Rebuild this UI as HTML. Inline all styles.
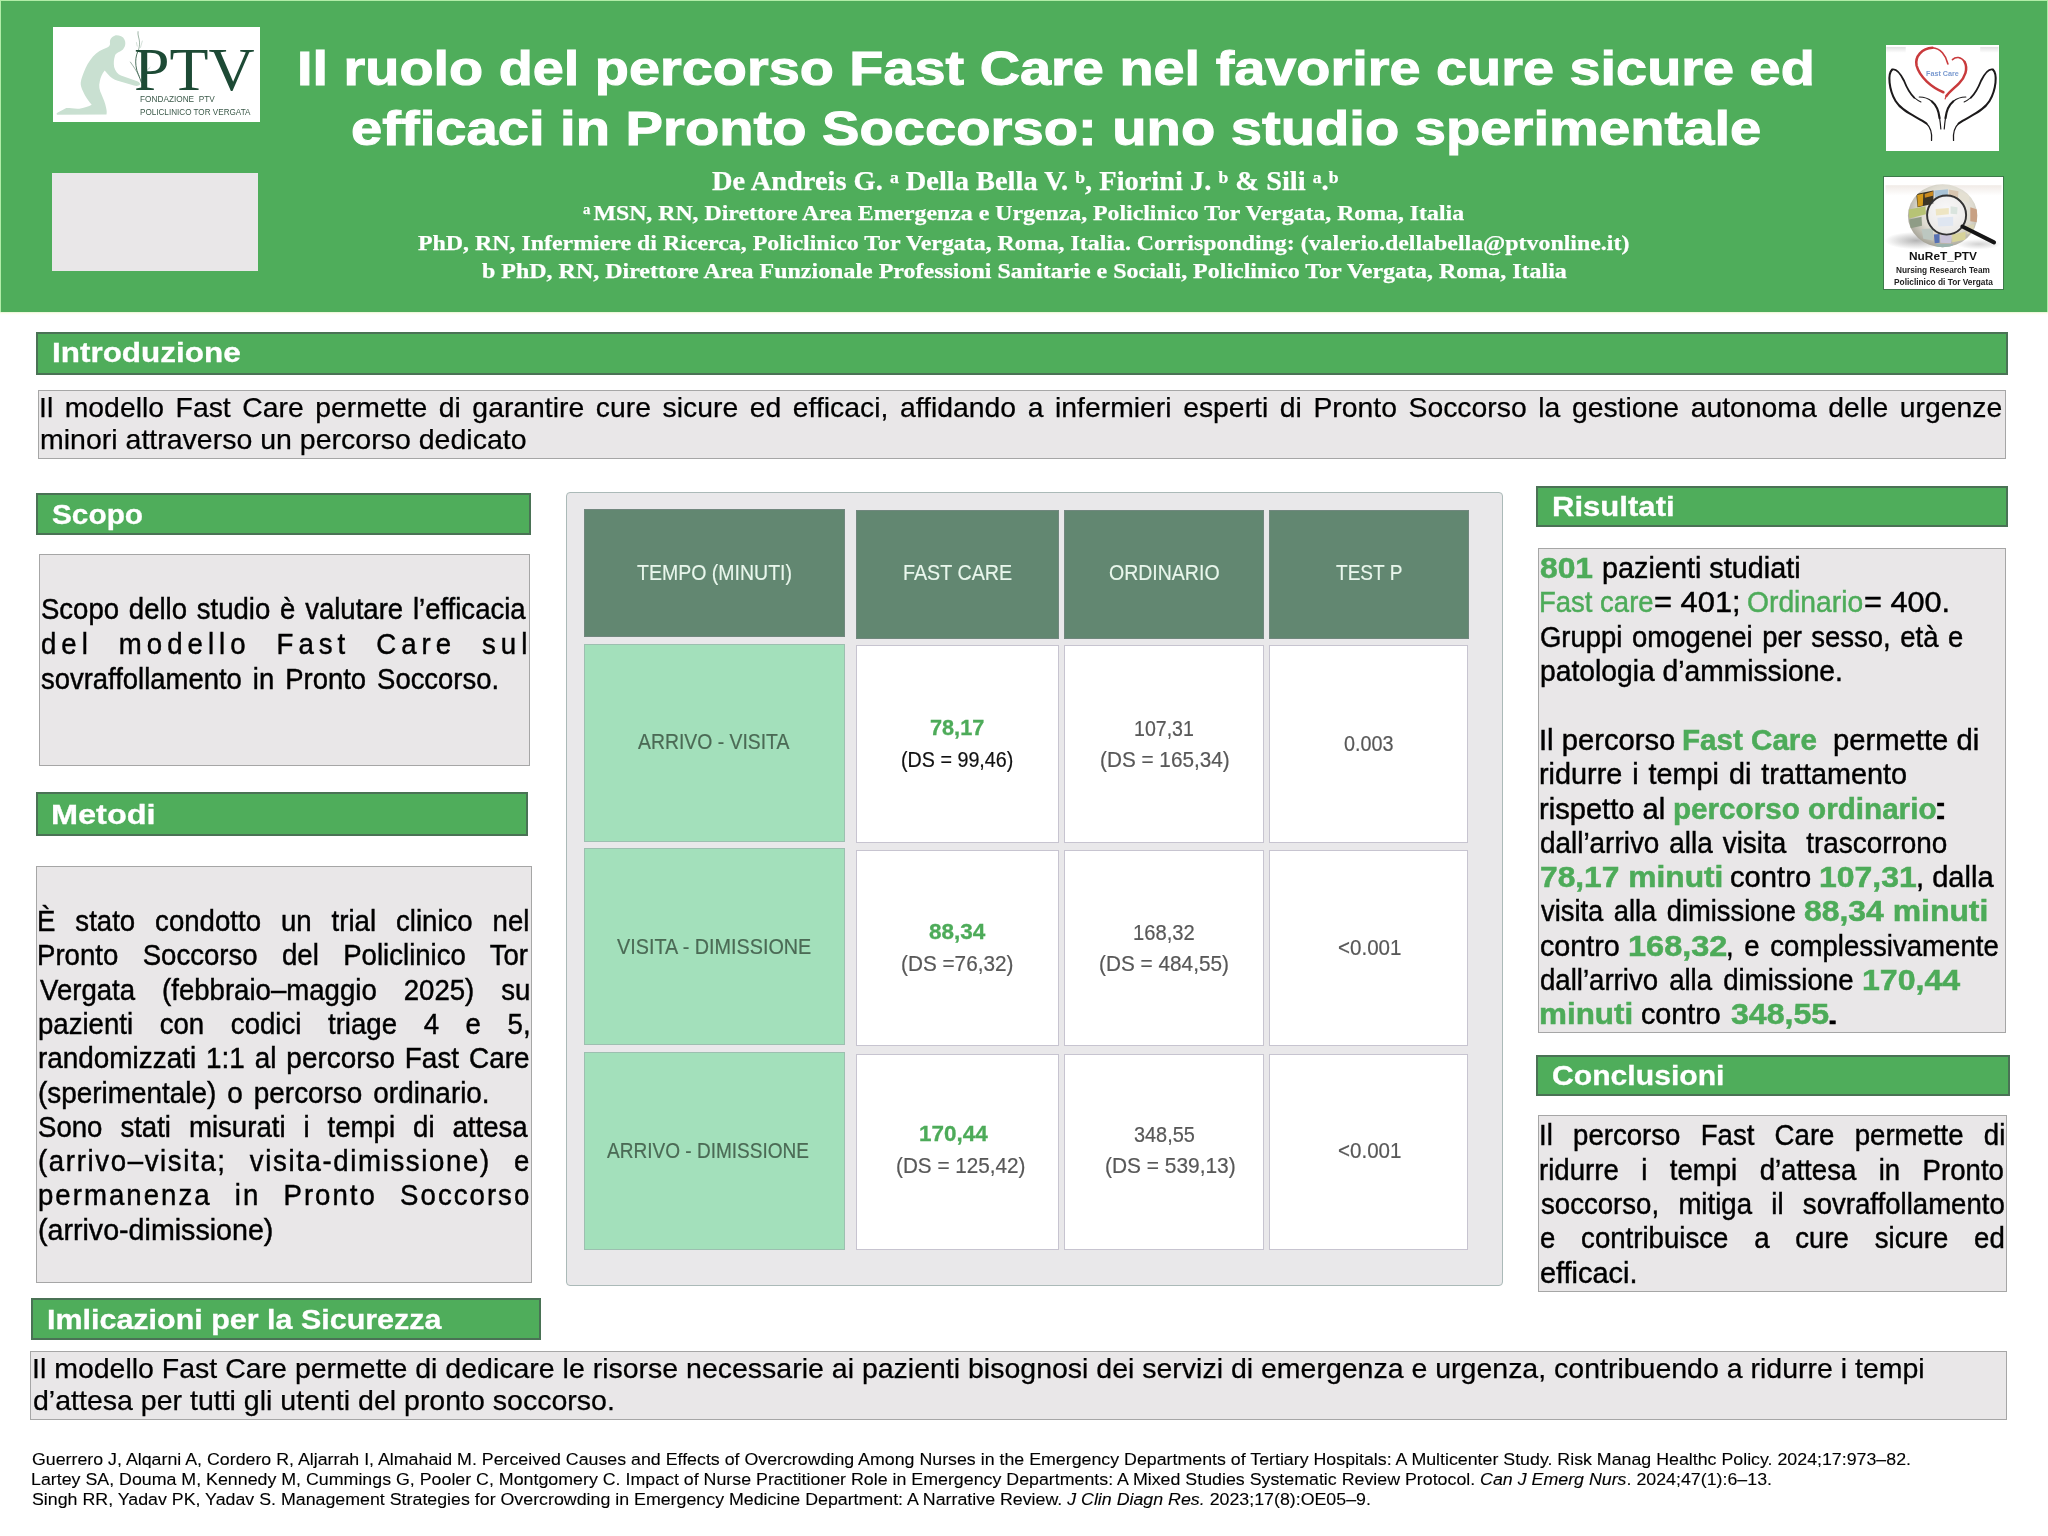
<!DOCTYPE html>
<html><head><meta charset="utf-8"><title>Fast Care poster</title>
<style>
html,body{margin:0;padding:0;background:#fff;}
body{width:2048px;height:1536px;position:relative;overflow:hidden;font-family:'Liberation Sans',sans-serif;}
.b{position:absolute;box-sizing:border-box;}
.t{position:absolute;white-space:pre;transform-origin:0 50%;margin:0;padding:0;}
svg{position:absolute;overflow:visible;}
</style></head><body>
<div class="b" style="left:0.00px;top:0.00px;width:2048.00px;height:311.70px;background:#4fad5b;"></div>
<div class="b" style="left:0;top:311.7px;width:2048px;height:3px;background:linear-gradient(#e4f5d2,#fdfdf0 45%,#ffffff);"></div>
<div class="b" style="left:0.00px;top:0.00px;width:2048.00px;height:1.00px;background:#b2eda8;"></div>
<div class="b" style="left:0.00px;top:0.00px;width:1.00px;height:311.70px;background:#b2eda8;"></div>
<div class="b" style="left:2047.00px;top:0.00px;width:1.00px;height:311.70px;background:#aaeea6;"></div>
<div class="b" style="left:53.00px;top:27.10px;width:207.00px;height:94.80px;background:#fff;"></div>
<div class="b" style="left:51.50px;top:172.50px;width:206.00px;height:98.00px;background:#e9e7e8;"></div>
<div class="b" style="left:1886.00px;top:45.00px;width:113.00px;height:106.00px;background:#fff;"></div>
<div class="b" style="left:1883.30px;top:176.40px;width:120.40px;height:113.90px;background:#fff;border:1.5px solid #3d7a4a;"></div>
<div class="b" style="left:36.00px;top:331.50px;width:1972.00px;height:43.40px;background:#4fad5b;border:2.6px solid #4a7255;"></div>
<div class="b" style="left:36.00px;top:493.00px;width:495.00px;height:42.40px;background:#4fad5b;border:2.6px solid #4a7255;"></div>
<div class="b" style="left:36.00px;top:792.00px;width:492.00px;height:43.90px;background:#4fad5b;border:2.6px solid #4a7255;"></div>
<div class="b" style="left:1536.25px;top:486.00px;width:471.75px;height:40.90px;background:#4fad5b;border:2.6px solid #4a7255;"></div>
<div class="b" style="left:1536.25px;top:1054.50px;width:473.75px;height:41.40px;background:#4fad5b;border:2.6px solid #4a7255;"></div>
<div class="b" style="left:31.25px;top:1298.25px;width:509.75px;height:41.40px;background:#4fad5b;border:2.6px solid #4a7255;"></div>
<div class="b" style="left:37.50px;top:390.00px;width:1968.00px;height:69.30px;background:#e9e7e8;border:1px solid #a6a6a6;"></div>
<div class="b" style="left:39.25px;top:554.25px;width:490.45px;height:211.35px;background:#e9e7e8;border:1px solid #a6a6a6;"></div>
<div class="b" style="left:35.50px;top:866.00px;width:496.50px;height:417.00px;background:#e9e7e8;border:1px solid #a6a6a6;"></div>
<div class="b" style="left:1538.00px;top:547.50px;width:467.75px;height:485.80px;background:#e9e7e8;border:1px solid #a6a6a6;"></div>
<div class="b" style="left:1538.00px;top:1115.00px;width:468.75px;height:176.60px;background:#e9e7e8;border:1px solid #a6a6a6;"></div>
<div class="b" style="left:30.25px;top:1350.50px;width:1976.25px;height:69.00px;background:#e9e7e8;border:1px solid #a6a6a6;"></div>
<div class="b" style="left:565.80px;top:491.60px;width:936.80px;height:794.70px;background:#e9e8ea;border:1.2px solid #abbab8;border-radius:4px;"></div>
<div class="b" style="left:583.75px;top:508.50px;width:260.75px;height:128.75px;background:#628771;border:1px solid #71877e;"></div>
<div class="b" style="left:856.25px;top:510.25px;width:203.00px;height:128.25px;background:#628771;border:1px solid #71877e;"></div>
<div class="b" style="left:1064.25px;top:510.25px;width:200.00px;height:128.25px;background:#628771;border:1px solid #71877e;"></div>
<div class="b" style="left:1269.25px;top:510.25px;width:199.50px;height:128.25px;background:#628771;border:1px solid #71877e;"></div>
<div class="b" style="left:583.75px;top:643.50px;width:260.75px;height:198.00px;background:#a3e0bb;border:1px solid #9dbfb0;"></div>
<div class="b" style="left:583.75px;top:847.75px;width:260.75px;height:197.25px;background:#a3e0bb;border:1px solid #9dbfb0;"></div>
<div class="b" style="left:583.75px;top:1052.00px;width:260.75px;height:197.50px;background:#a3e0bb;border:1px solid #9dbfb0;"></div>
<div class="b" style="left:856.25px;top:645.25px;width:202.65px;height:197.75px;background:#fff;border:1px solid #c7c4d0;"></div>
<div class="b" style="left:1064.30px;top:645.25px;width:199.60px;height:197.75px;background:#fff;border:1px solid #c7c4d0;"></div>
<div class="b" style="left:1269.40px;top:645.25px;width:199.10px;height:197.75px;background:#fff;border:1px solid #c7c4d0;"></div>
<div class="b" style="left:856.25px;top:849.75px;width:202.65px;height:196.50px;background:#fff;border:1px solid #c7c4d0;"></div>
<div class="b" style="left:1064.30px;top:849.75px;width:199.60px;height:196.50px;background:#fff;border:1px solid #c7c4d0;"></div>
<div class="b" style="left:1269.40px;top:849.75px;width:199.10px;height:196.50px;background:#fff;border:1px solid #c7c4d0;"></div>
<div class="b" style="left:856.25px;top:1053.75px;width:202.65px;height:195.75px;background:#fff;border:1px solid #c7c4d0;"></div>
<div class="b" style="left:1064.30px;top:1053.75px;width:199.60px;height:195.75px;background:#fff;border:1px solid #c7c4d0;"></div>
<div class="b" style="left:1269.40px;top:1053.75px;width:199.10px;height:195.75px;background:#fff;border:1px solid #c7c4d0;"></div>
<!-- PTV logo figure + twig : region (50,24) 100x100, viewBox = 15.36x zoom coords -->
<svg style="left:50px;top:24px" width="100" height="100" viewBox="0 0 1536 1536">
  <path fill="#c9e0d1" d="M1000,175 C1060,170 1120,190 1145,240 C1165,280 1160,330 1135,370 C1120,400 1085,425 1050,432 C1025,445 1005,460 1000,480 C980,540 975,600 985,660 C1000,720 1040,770 1090,790 L1340,880 C1375,895 1390,915 1380,935 C1360,955 1320,955 1290,945 L1040,870 C980,850 930,820 890,770 L840,715 C800,760 775,830 765,880 C745,950 760,1020 790,1080 C820,1150 850,1220 860,1280 C870,1320 875,1360 868,1390 L110,1392 C95,1385 100,1370 120,1360 L250,1292 C300,1290 380,1305 450,1300 C520,1290 600,1265 640,1240 C590,1180 540,1110 510,1040 C480,980 468,940 472,900 C480,840 500,790 520,740 C550,660 600,570 660,500 C720,430 800,390 870,365 C905,350 925,330 922,300 C915,250 930,200 1000,175 Z"/>
  <g fill="none" stroke-linecap="round">
    <path stroke="#2c5540" stroke-width="13" d="M1405,900 C1380,820 1330,740 1320,640 C1310,560 1320,490 1345,430"/>
    <path stroke="#5b8069" stroke-width="9" d="M1345,430 C1380,360 1385,280 1360,200 C1350,170 1350,140 1352,118"/>
    <path stroke="#557a66" stroke-width="9" d="M1370,800 C1330,720 1280,650 1235,585"/>
    <path stroke="#8fb09e" stroke-width="6" d="M1390,360 C1400,320 1410,290 1418,262"/>
    <path stroke="#8fb09e" stroke-width="6" d="M1340,340 C1335,320 1330,300 1328,285"/>
    <path stroke="#6f937f" stroke-width="6" d="M1480,730 C1500,700 1520,680 1536,665"/>
  </g>
</svg>
<!-- Fast Care logo : region (1860,30) 160x130, viewBox = 11.81x zoom coords -->
<svg style="left:1860px;top:30px" width="160" height="130" viewBox="0 0 1890 1536">
  <defs><linearGradient id="fcg" x1="0" y1="0" x2="0" y2="1"><stop offset="0" stop-color="#d9d9d9"/><stop offset="1" stop-color="#ffffff"/></linearGradient></defs>
  <rect x="310" y="200" width="230" height="70" fill="url(#fcg)" opacity=".8"/>
  <rect x="1420" y="200" width="215" height="70" fill="url(#fcg)" opacity=".8"/>
  <g fill="none" stroke="#1c1a1b" stroke-linecap="round" stroke-linejoin="round">
    <path stroke-width="24" d="M380,468 C325,520 340,700 420,840 C500,975 690,1030 785,1105"/>
    <path stroke-width="15" d="M785,1105 C850,1165 850,1250 845,1305"/>
    <path stroke-width="22" d="M380,468 C425,455 480,520 520,600 C555,690 590,750 640,800"/>
    <path stroke-width="12" d="M640,800 C670,825 695,840 720,850"/>
    <path stroke-width="14" d="M700,792 C760,792 810,810 850,845"/>
    <path stroke-width="26" d="M850,845 C905,890 930,960 940,1040"/>
    <path stroke-width="14" d="M940,1040 C948,1090 952,1130 955,1170"/>
    <path stroke-width="24" d="M1570,468 C1625,520 1610,700 1530,840 C1450,975 1260,1030 1165,1105"/>
    <path stroke-width="15" d="M1165,1105 C1100,1165 1100,1250 1105,1305"/>
    <path stroke-width="22" d="M1570,468 C1525,455 1470,520 1430,600 C1395,690 1360,750 1310,800"/>
    <path stroke-width="12" d="M1310,800 C1280,825 1255,840 1230,850"/>
    <path stroke-width="14" d="M1250,792 C1190,792 1140,810 1100,845"/>
    <path stroke-width="26" d="M1100,845 C1045,890 1020,960 1010,1040"/>
    <path stroke-width="14" d="M1010,1040 C1002,1090 998,1130 995,1170"/>
  </g>
  <g fill="none" stroke="#c93a3c" stroke-linecap="round">
    <path stroke-width="30" d="M985,735 C850,680 705,560 668,420 C645,310 735,215 855,210"/>
    <path stroke-width="20" d="M855,210 C950,215 1015,300 1038,400"/>
    <path stroke-width="18" d="M1092,350 C1130,312 1195,312 1235,375"/>
    <path stroke-width="30" d="M1235,375 C1280,460 1240,560 1170,630 C1110,690 1045,740 1020,780"/>
    <path stroke-width="14" d="M1020,780 C1012,795 1008,805 1006,815"/>
  </g>
</svg>
<!-- NuReT logo : region (1860,165) 160x135, viewBox = 11.375x zoom coords -->
<svg style="left:1860px;top:165px" width="160" height="135" viewBox="0 0 1820 1536">
  <defs>
    <radialGradient id="glb" cx=".55" cy=".4" r=".65"><stop offset="0" stop-color="#fbfaf6"/><stop offset=".6" stop-color="#dedbd0"/><stop offset="1" stop-color="#9c9a8e"/></radialGradient>
    <radialGradient id="shd" cx=".5" cy=".5" r=".5"><stop offset="0" stop-color="#777" stop-opacity=".55"/><stop offset="1" stop-color="#777" stop-opacity="0"/></radialGradient>
    <clipPath id="gc"><ellipse cx="940" cy="578" rx="395" ry="358"/></clipPath>
    <linearGradient id="top" x1="0" y1="0" x2="0" y2="1"><stop offset="0" stop-color="#f1ebe7"/><stop offset="1" stop-color="#ffffff"/></linearGradient>
  </defs>
  <rect x="290" y="230" width="1320" height="120" fill="url(#top)"/>
  <ellipse cx="640" cy="860" rx="360" ry="100" fill="url(#shd)"/>
  <ellipse cx="1350" cy="900" rx="260" ry="60" fill="url(#shd)" opacity=".6"/>
  <ellipse cx="940" cy="578" rx="395" ry="358" fill="url(#glb)"/>
  <g clip-path="url(#gc)">
    <path d="M640,330 L835,290 L835,440 L655,480 Z" fill="#3b3526"/>
    <path d="M650,340 L720,325 L715,460 L658,475 Z" fill="#d39a1c"/>
    <path d="M735,330 L830,300 L830,350 L738,372 Z" fill="#c98a22"/>
    <path d="M555,505 L745,470 L750,560 L560,610 Z" fill="#b7c375"/>
    <path d="M560,620 L700,590 L705,690 L575,720 Z" fill="#8f9c86"/>
    <path d="M845,290 L1000,275 L1000,360 L850,370 Z" fill="#a9c3d6"/>
    <path d="M1010,280 L1120,300 L1115,380 L1010,365 Z" fill="#d9c6b0"/>
    <path d="M840,790 L905,785 L905,885 L850,890 Z" fill="#5570b3"/>
    <path d="M915,790 L1040,800 L1035,890 L915,885 Z" fill="#c9c3d8"/>
    <path d="M1050,790 L1200,760 L1200,850 L1050,880 Z" fill="#d7d39a"/>
    <path d="M1255,480 L1335,505 L1335,650 L1255,640 Z" fill="#c8a184"/><path d="M1130,300 L1240,340 L1240,430 L1130,400 Z" fill="#e4e0d2"/><path d="M1215,690 L1300,670 L1290,760 L1215,790 Z" fill="#d9d4b4"/>
    <path d="M700,730 L830,720 L830,860 L720,840 Z" fill="#bcc7c0"/>
    <path d="M860,900 L1060,900 L1040,960 L880,955 Z" fill="#9ab3ad"/>
    <path d="M860,500 L1010,490 L1010,560 L865,575 Z" fill="#e6d58a"/><path d="M880,600 L1060,590 L1060,690 L890,700 Z" fill="#c9d6e6"/><path d="M1030,470 L1110,480 L1105,560 L1030,555 Z" fill="#bfd3c0"/></g>
  <circle cx="985" cy="570" r="222" fill="#f5f6fb" fill-opacity=".5" stroke="#333" stroke-width="22"/>
  <path d="M1165,700 L1525,880" stroke="#161616" stroke-width="46" stroke-linecap="round" fill="none"/>
</svg>

<div id="txt" style="position:absolute;left:0;top:0;width:2048px;height:1536px;will-change:transform;">
<div class="t" style="left:296.87px;top:44.19px;line-height:48.8px;color:#fff;font-family:'Liberation Sans', sans-serif;font-size:48.8px;font-weight:700;-webkit-text-stroke:1.00px #fff;transform:scaleX(1.1445);">Il ruolo del percorso Fast Care nel favorire cure sicure ed</div>
<div class="t" style="left:350.53px;top:103.94px;line-height:48.8px;color:#fff;font-family:'Liberation Sans', sans-serif;font-size:48.8px;font-weight:700;-webkit-text-stroke:1.00px #fff;transform:scaleX(1.1507);">efficaci in Pronto Soccorso: uno studio sperimentale</div>
<div class="t" style="left:711.57px;top:167.81px;line-height:26.5px;color:#fff;font-family:'Liberation Serif', serif;font-size:26.5px;font-weight:700;-webkit-text-stroke:0.25px #fff;transform:scaleX(1.0723);">De Andreis G. <span style="font-size:.62em;position:relative;top:-.42em">a</span> Della Bella V. <span style="font-size:.62em;position:relative;top:-.42em">b</span>, Fiorini J. <span style="font-size:.62em;position:relative;top:-.42em">b</span> &amp; Sili <span style="font-size:.62em;position:relative;top:-.42em">a</span>.<span style="font-size:.62em;position:relative;top:-.42em">b</span></div>
<div class="t" style="left:583.04px;top:202.07px;line-height:22px;color:#fff;font-family:'Liberation Serif', serif;font-size:22px;font-weight:700;-webkit-text-stroke:0.25px #fff;transform:scaleX(1.0816);"><span style="font-size:.62em;position:relative;top:-.42em">a</span><span style="margin-left:-.12em"> </span>MSN, RN, Direttore Area Emergenza e Urgenza, Policlinico Tor Vergata, Roma, Italia</div>
<div class="t" style="left:418.39px;top:231.57px;line-height:22px;color:#fff;font-family:'Liberation Serif', serif;font-size:22px;font-weight:700;-webkit-text-stroke:0.25px #fff;transform:scaleX(1.0853);">PhD, RN, Infermiere di Ricerca, Policlinico Tor Vergata, Roma, Italia. Corrisponding: (valerio.dellabella@ptvonline.it)</div>
<div class="t" style="left:481.76px;top:260.32px;line-height:22px;color:#fff;font-family:'Liberation Serif', serif;font-size:22px;font-weight:700;-webkit-text-stroke:0.25px #fff;transform:scaleX(1.0893);">b PhD, RN, Direttore Area Funzionale Professioni Sanitarie e Sociali, Policlinico Tor Vergata, Roma, Italia</div>
<div class="t" style="left:52.36px;top:339.64px;line-height:27.0px;color:#fff;font-family:'Liberation Sans', sans-serif;font-size:27.0px;font-weight:700;-webkit-text-stroke:0.30px #fff;transform:scaleX(1.1645);">Introduzione</div>
<div class="t" style="left:51.76px;top:501.54px;line-height:27.0px;color:#fff;font-family:'Liberation Sans', sans-serif;font-size:27.0px;font-weight:700;-webkit-text-stroke:0.30px #fff;transform:scaleX(1.1036);">Scopo</div>
<div class="t" style="left:51.14px;top:801.54px;line-height:27.0px;color:#fff;font-family:'Liberation Sans', sans-serif;font-size:27.0px;font-weight:700;-webkit-text-stroke:0.30px #fff;transform:scaleX(1.2018);">Metodi</div>
<div class="t" style="left:1552.48px;top:494.04px;line-height:27.0px;color:#fff;font-family:'Liberation Sans', sans-serif;font-size:27.0px;font-weight:700;-webkit-text-stroke:0.30px #fff;transform:scaleX(1.1513);">Risultati</div>
<div class="t" style="left:1552.04px;top:1062.74px;line-height:27.0px;color:#fff;font-family:'Liberation Sans', sans-serif;font-size:27.0px;font-weight:700;-webkit-text-stroke:0.30px #fff;transform:scaleX(1.1165);">Conclusioni</div>
<div class="t" style="left:47.27px;top:1306.54px;line-height:27.0px;color:#fff;font-family:'Liberation Sans', sans-serif;font-size:27.0px;font-weight:700;-webkit-text-stroke:0.30px #fff;transform:scaleX(1.1282);">Imlicazioni per la Sicurezza</div>
<div class="t" style="left:39.45px;top:394.47px;line-height:27.8px;color:#000;font-family:'Liberation Sans', sans-serif;font-size:27.8px;font-weight:400;word-spacing:3.607px;-webkit-text-stroke:0.25px #000;transform:scaleX(1.0200);">Il modello Fast Care permette di garantire cure sicure ed efficaci, affidando a infermieri esperti di Pronto Soccorso la gestione autonoma delle urgenze</div>
<div class="t" style="left:40.15px;top:425.97px;line-height:27.8px;color:#000;font-family:'Liberation Sans', sans-serif;font-size:27.8px;font-weight:400;-webkit-text-stroke:0.25px #000;transform:scaleX(1.0257);">minori attraverso un percorso dedicato</div>
<div class="t" style="left:31.69px;top:1355.22px;line-height:27.8px;color:#000;font-family:'Liberation Sans', sans-serif;font-size:27.8px;font-weight:400;-webkit-text-stroke:0.25px #000;transform:scaleX(1.0251);">Il modello Fast Care permette di dedicare le risorse necessarie ai pazienti bisognosi dei servizi di emergenza e urgenza, contribuendo a ridurre i tempi</div>
<div class="t" style="left:33.11px;top:1386.97px;line-height:27.8px;color:#000;font-family:'Liberation Sans', sans-serif;font-size:27.8px;font-weight:400;-webkit-text-stroke:0.25px #000;transform:scaleX(1.0261);">d’attesa per tutti gli utenti del pronto soccorso.</div>
<div class="t" style="left:31.61px;top:1450.52px;line-height:17.1px;color:#000;font-family:'Liberation Sans', sans-serif;font-size:17.1px;font-weight:400;-webkit-text-stroke:0.12px #000;transform:scaleX(1.0405);">Guerrero J, Alqarni A, Cordero R, Aljarrah I, Almahaid M. Perceived Causes and Effects of Overcrowding Among Nurses in the Emergency Departments of Tertiary Hospitals: A Multicenter Study. Risk Manag Healthc Policy. 2024;17:973–82.</div>
<div class="t" style="left:31.08px;top:1471.02px;line-height:17.1px;color:#000;font-family:'Liberation Sans', sans-serif;font-size:17.1px;font-weight:400;-webkit-text-stroke:0.12px #000;transform:scaleX(1.0412);">Lartey SA, Douma M, Kennedy M, Cummings G, Pooler C, Montgomery C. Impact of Nurse Practitioner Role in Emergency Departments: A Mixed Studies Systematic Review Protocol. <i>Can J Emerg Nurs</i>. 2024;47(1):6–13.</div>
<div class="t" style="left:31.70px;top:1490.52px;line-height:17.1px;color:#000;font-family:'Liberation Sans', sans-serif;font-size:17.1px;font-weight:400;-webkit-text-stroke:0.12px #000;transform:scaleX(1.0410);">Singh RR, Yadav PK, Yadav S. Management Strategies for Overcrowding in Emergency Medicine Department: A Narrative Review. <i>J Clin Diagn Res.</i> 2023;17(8):OE05–9.</div>
<div class="t" style="left:40.76px;top:595.29px;line-height:28.6px;color:#000;font-family:'Liberation Sans', sans-serif;font-size:28.6px;font-weight:400;word-spacing:2.245px;-webkit-text-stroke:0.45px #000;transform:scaleX(0.9626);">Scopo dello studio è valutare l’efficacia</div>
<div class="t" style="left:40.90px;top:630.04px;line-height:28.6px;color:#000;font-family:'Liberation Sans', sans-serif;font-size:28.6px;font-weight:400;letter-spacing:5.200px;word-spacing:13.735px;-webkit-text-stroke:0.45px #000;transform:scaleX(0.9650);">del modello Fast Care sul</div>
<div class="t" style="left:41.31px;top:664.54px;line-height:28.6px;color:#000;font-family:'Liberation Sans', sans-serif;font-size:28.6px;font-weight:400;word-spacing:3.542px;-webkit-text-stroke:0.45px #000;transform:scaleX(0.9596);">sovraffollamento in Pronto Soccorso.</div>
<div class="t" style="left:37.29px;top:907.04px;line-height:28.6px;color:#000;font-family:'Liberation Sans', sans-serif;font-size:28.6px;font-weight:400;word-spacing:12.727px;-webkit-text-stroke:0.45px #000;transform:scaleX(0.9650);">È stato condotto un trial clinico nel</div>
<div class="t" style="left:37.29px;top:941.34px;line-height:28.6px;color:#000;font-family:'Liberation Sans', sans-serif;font-size:28.6px;font-weight:400;word-spacing:17.290px;-webkit-text-stroke:0.45px #000;transform:scaleX(0.9650);">Pronto Soccorso del Policlinico Tor</div>
<div class="t" style="left:39.50px;top:975.64px;line-height:28.6px;color:#000;font-family:'Liberation Sans', sans-serif;font-size:28.6px;font-weight:400;word-spacing:19.943px;-webkit-text-stroke:0.45px #000;transform:scaleX(0.9650);">Vergata (febbraio–maggio 2025) su</div>
<div class="t" style="left:37.84px;top:1009.94px;line-height:28.6px;color:#000;font-family:'Liberation Sans', sans-serif;font-size:28.6px;font-weight:400;word-spacing:19.639px;-webkit-text-stroke:0.45px #000;transform:scaleX(0.9650);">pazienti con codici triage 4 e 5,</div>
<div class="t" style="left:37.69px;top:1044.24px;line-height:28.6px;color:#000;font-family:'Liberation Sans', sans-serif;font-size:28.6px;font-weight:400;word-spacing:2.208px;-webkit-text-stroke:0.45px #000;transform:scaleX(0.9757);">randomizzati 1:1 al percorso Fast Care</div>
<div class="t" style="left:37.83px;top:1078.54px;line-height:28.6px;color:#000;font-family:'Liberation Sans', sans-serif;font-size:28.6px;font-weight:400;word-spacing:3.374px;-webkit-text-stroke:0.45px #000;transform:scaleX(0.9753);">(sperimentale) o percorso ordinario.</div>
<div class="t" style="left:38.26px;top:1112.84px;line-height:28.6px;color:#000;font-family:'Liberation Sans', sans-serif;font-size:28.6px;font-weight:400;word-spacing:10.665px;-webkit-text-stroke:0.45px #000;transform:scaleX(0.9650);">Sono stati misurati i tempi di attesa</div>
<div class="t" style="left:37.84px;top:1147.14px;line-height:28.6px;color:#000;font-family:'Liberation Sans', sans-serif;font-size:28.6px;font-weight:400;letter-spacing:1.700px;word-spacing:14.265px;-webkit-text-stroke:0.45px #000;transform:scaleX(0.9650);">(arrivo–visita; visita-dimissione) e</div>
<div class="t" style="left:37.84px;top:1181.44px;line-height:28.6px;color:#000;font-family:'Liberation Sans', sans-serif;font-size:28.6px;font-weight:400;letter-spacing:2.100px;word-spacing:13.940px;-webkit-text-stroke:0.45px #000;transform:scaleX(0.9650);">permanenza in Pronto Soccorso</div>
<div class="t" style="left:37.78px;top:1215.74px;line-height:28.6px;color:#000;font-family:'Liberation Sans', sans-serif;font-size:28.6px;font-weight:400;-webkit-text-stroke:0.45px #000;transform:scaleX(1.0009);">(arrivo-dimissione)</div>
<div class="t" style="left:1540.30px;top:553.79px;line-height:28.6px;color:#4dab59;font-family:'Liberation Sans', sans-serif;font-size:28.6px;font-weight:700;-webkit-text-stroke:0.50px #4dab59;transform:scaleX(1.1114);">801</div>
<div class="t" style="left:1602.02px;top:553.79px;line-height:28.6px;color:#000;font-family:'Liberation Sans', sans-serif;font-size:28.6px;font-weight:400;-webkit-text-stroke:0.45px #000;transform:scaleX(1.0079);">pazienti studiati</div>
<div class="t" style="left:1539.05px;top:588.29px;line-height:28.6px;color:#4dab59;font-family:'Liberation Sans', sans-serif;font-size:28.6px;font-weight:400;-webkit-text-stroke:0.45px #4dab59;transform:scaleX(0.9614);">Fast care</div>
<div class="t" style="left:1653.61px;top:588.29px;line-height:28.6px;color:#000;font-family:'Liberation Sans', sans-serif;font-size:28.6px;font-weight:400;-webkit-text-stroke:0.45px #000;transform:scaleX(1.0785);">= 401;</div>
<div class="t" style="left:1747.48px;top:588.29px;line-height:28.6px;color:#4dab59;font-family:'Liberation Sans', sans-serif;font-size:28.6px;font-weight:400;-webkit-text-stroke:0.45px #4dab59;transform:scaleX(0.9879);">Ordinario</div>
<div class="t" style="left:1863.62px;top:588.29px;line-height:28.6px;color:#000;font-family:'Liberation Sans', sans-serif;font-size:28.6px;font-weight:400;-webkit-text-stroke:0.45px #000;transform:scaleX(1.0719);">= 400.</div>
<div class="t" style="left:1539.88px;top:622.54px;line-height:28.6px;color:#000;font-family:'Liberation Sans', sans-serif;font-size:28.6px;font-weight:400;word-spacing:1.961px;-webkit-text-stroke:0.45px #000;transform:scaleX(0.9607);">Gruppi omogenei per sesso, età e</div>
<div class="t" style="left:1539.56px;top:657.04px;line-height:28.6px;color:#000;font-family:'Liberation Sans', sans-serif;font-size:28.6px;font-weight:400;-webkit-text-stroke:0.45px #000;transform:scaleX(0.9875);">patologia d’ammissione.</div>
<div class="t" style="left:1538.62px;top:725.79px;line-height:28.6px;color:#000;font-family:'Liberation Sans', sans-serif;font-size:28.6px;font-weight:400;-webkit-text-stroke:0.45px #000;transform:scaleX(1.0212);">Il percorso</div>
<div class="t" style="left:1682.33px;top:725.79px;line-height:28.6px;color:#4dab59;font-family:'Liberation Sans', sans-serif;font-size:28.6px;font-weight:700;-webkit-text-stroke:0.50px #4dab59;transform:scaleX(1.0347);">Fast Care</div>
<div class="t" style="left:1833.25px;top:725.79px;line-height:28.6px;color:#000;font-family:'Liberation Sans', sans-serif;font-size:28.6px;font-weight:400;-webkit-text-stroke:0.45px #000;transform:scaleX(1.0222);">permette di</div>
<div class="t" style="left:1539.38px;top:760.29px;line-height:28.6px;color:#000;font-family:'Liberation Sans', sans-serif;font-size:28.6px;font-weight:400;word-spacing:1.935px;-webkit-text-stroke:0.45px #000;transform:scaleX(1.0075);">ridurre i tempi di trattamento</div>
<div class="t" style="left:1539.36px;top:794.54px;line-height:28.6px;color:#000;font-family:'Liberation Sans', sans-serif;font-size:28.6px;font-weight:400;-webkit-text-stroke:0.45px #000;transform:scaleX(1.0180);">rispetto al</div>
<div class="t" style="left:1673.07px;top:794.54px;line-height:28.6px;color:#4dab59;font-family:'Liberation Sans', sans-serif;font-size:28.6px;font-weight:700;-webkit-text-stroke:0.50px #4dab59;transform:scaleX(1.0365);">percorso ordinario</div>
<div class="t" style="left:1931.89px;top:794.54px;line-height:28.6px;color:#000;font-family:'Liberation Sans', sans-serif;font-size:28.6px;font-weight:400;-webkit-text-stroke:0.45px #000;transform:scaleX(2.1799);">:</div>
<div class="t" style="left:1540.13px;top:828.79px;line-height:28.6px;color:#000;font-family:'Liberation Sans', sans-serif;font-size:28.6px;font-weight:400;word-spacing:2.290px;-webkit-text-stroke:0.45px #000;transform:scaleX(0.9753);">dall’arrivo alla visita  trascorrono</div>
<div class="t" style="left:1539.98px;top:862.79px;line-height:28.6px;color:#4dab59;font-family:'Liberation Sans', sans-serif;font-size:28.6px;font-weight:700;-webkit-text-stroke:0.50px #4dab59;transform:scaleX(1.1098);">78,17 minuti</div>
<div class="t" style="left:1730.08px;top:862.79px;line-height:28.6px;color:#000;font-family:'Liberation Sans', sans-serif;font-size:28.6px;font-weight:400;-webkit-text-stroke:0.45px #000;transform:scaleX(1.0206);">contro</div>
<div class="t" style="left:1819.33px;top:862.79px;line-height:28.6px;color:#4dab59;font-family:'Liberation Sans', sans-serif;font-size:28.6px;font-weight:700;-webkit-text-stroke:0.50px #4dab59;transform:scaleX(1.1176);">107,31</div>
<div class="t" style="left:1916.03px;top:862.79px;line-height:28.6px;color:#000;font-family:'Liberation Sans', sans-serif;font-size:28.6px;font-weight:400;-webkit-text-stroke:0.45px #000;transform:scaleX(1.0170);">, dalla</div>
<div class="t" style="left:1541.25px;top:897.04px;line-height:28.6px;color:#000;font-family:'Liberation Sans', sans-serif;font-size:28.6px;font-weight:400;word-spacing:2.985px;-webkit-text-stroke:0.45px #000;transform:scaleX(0.9560);">visita alla dimissione</div>
<div class="t" style="left:1804.04px;top:897.04px;line-height:28.6px;color:#4dab59;font-family:'Liberation Sans', sans-serif;font-size:28.6px;font-weight:700;-webkit-text-stroke:0.50px #4dab59;transform:scaleX(1.1155);">88,34 minuti</div>
<div class="t" style="left:1540.10px;top:931.54px;line-height:28.6px;color:#000;font-family:'Liberation Sans', sans-serif;font-size:28.6px;font-weight:400;-webkit-text-stroke:0.45px #000;transform:scaleX(1.0044);">contro</div>
<div class="t" style="left:1628.05px;top:931.54px;line-height:28.6px;color:#4dab59;font-family:'Liberation Sans', sans-serif;font-size:28.6px;font-weight:700;-webkit-text-stroke:0.50px #4dab59;transform:scaleX(1.1361);">168,32</div>
<div class="t" style="left:1726.41px;top:931.54px;line-height:28.6px;color:#000;font-family:'Liberation Sans', sans-serif;font-size:28.6px;font-weight:400;word-spacing:3.113px;-webkit-text-stroke:0.45px #000;transform:scaleX(0.9645);">, e complessivamente</div>
<div class="t" style="left:1540.15px;top:965.79px;line-height:28.6px;color:#000;font-family:'Liberation Sans', sans-serif;font-size:28.6px;font-weight:400;word-spacing:3.599px;-webkit-text-stroke:0.45px #000;transform:scaleX(0.9645);">dall’arrivo alla dimissione</div>
<div class="t" style="left:1861.82px;top:965.79px;line-height:28.6px;color:#4dab59;font-family:'Liberation Sans', sans-serif;font-size:28.6px;font-weight:700;-webkit-text-stroke:0.50px #4dab59;transform:scaleX(1.1228);">170,44</div>
<div class="t" style="left:1539.21px;top:1000.29px;line-height:28.6px;color:#4dab59;font-family:'Liberation Sans', sans-serif;font-size:28.6px;font-weight:700;-webkit-text-stroke:0.50px #4dab59;transform:scaleX(1.0978);">minuti</div>
<div class="t" style="left:1641.35px;top:1000.29px;line-height:28.6px;color:#000;font-family:'Liberation Sans', sans-serif;font-size:28.6px;font-weight:400;-webkit-text-stroke:0.45px #000;transform:scaleX(1.0044);">contro</div>
<div class="t" style="left:1730.61px;top:1000.29px;line-height:28.6px;color:#4dab59;font-family:'Liberation Sans', sans-serif;font-size:28.6px;font-weight:700;-webkit-text-stroke:0.50px #4dab59;transform:scaleX(1.1231);">348,55</div>
<div class="t" style="left:1825.06px;top:1000.29px;line-height:28.6px;color:#000;font-family:'Liberation Sans', sans-serif;font-size:28.6px;font-weight:400;-webkit-text-stroke:0.45px #000;transform:scaleX(1.9183);">.</div>
<div class="t" style="left:1538.77px;top:1121.29px;line-height:28.6px;color:#000;font-family:'Liberation Sans', sans-serif;font-size:28.6px;font-weight:400;word-spacing:13.060px;-webkit-text-stroke:0.45px #000;transform:scaleX(0.9650);">Il percorso Fast Care permette di</div>
<div class="t" style="left:1539.46px;top:1155.64px;line-height:28.6px;color:#000;font-family:'Liberation Sans', sans-serif;font-size:28.6px;font-weight:400;word-spacing:15.302px;-webkit-text-stroke:0.45px #000;transform:scaleX(0.9650);">ridurre i tempi d’attesa in Pronto</div>
<div class="t" style="left:1540.56px;top:1189.99px;line-height:28.6px;color:#000;font-family:'Liberation Sans', sans-serif;font-size:28.6px;font-weight:400;word-spacing:12.065px;-webkit-text-stroke:0.45px #000;transform:scaleX(0.9650);">soccorso, mitiga il sovraffollamento</div>
<div class="t" style="left:1540.15px;top:1224.34px;line-height:28.6px;color:#000;font-family:'Liberation Sans', sans-serif;font-size:28.6px;font-weight:400;word-spacing:18.767px;-webkit-text-stroke:0.45px #000;transform:scaleX(0.9650);">e contribuisce a cure sicure ed</div>
<div class="t" style="left:1540.09px;top:1258.69px;line-height:28.6px;color:#000;font-family:'Liberation Sans', sans-serif;font-size:28.6px;font-weight:400;-webkit-text-stroke:0.45px #000;transform:scaleX(1.0106);">efficaci.</div>
<div class="t" style="left:636.61px;top:560.53px;line-height:22.7px;color:#e9f6ec;font-family:'Liberation Sans', sans-serif;font-size:22.7px;font-weight:400;-webkit-text-stroke:0.15px #e9f6ec;transform:scaleX(0.8602);">TEMPO (MINUTI)</div>
<div class="t" style="left:902.92px;top:561.28px;line-height:22.7px;color:#e9f6ec;font-family:'Liberation Sans', sans-serif;font-size:22.7px;font-weight:400;-webkit-text-stroke:0.15px #e9f6ec;transform:scaleX(0.8687);">FAST CARE</div>
<div class="t" style="left:1109.12px;top:561.28px;line-height:22.7px;color:#e9f6ec;font-family:'Liberation Sans', sans-serif;font-size:22.7px;font-weight:400;-webkit-text-stroke:0.15px #e9f6ec;transform:scaleX(0.8599);">ORDINARIO</div>
<div class="t" style="left:1336.37px;top:561.28px;line-height:22.7px;color:#e9f6ec;font-family:'Liberation Sans', sans-serif;font-size:22.7px;font-weight:400;-webkit-text-stroke:0.15px #e9f6ec;transform:scaleX(0.8400);">TEST P</div>
<div class="t" style="left:638.00px;top:731.47px;line-height:21.6px;color:#4b6a55;font-family:'Liberation Sans', sans-serif;font-size:21.6px;font-weight:400;-webkit-text-stroke:0.20px #4b6a55;transform:scaleX(0.8973);">ARRIVO - VISITA</div>
<div class="t" style="left:617.00px;top:936.22px;line-height:21.6px;color:#4b6a55;font-family:'Liberation Sans', sans-serif;font-size:21.6px;font-weight:400;-webkit-text-stroke:0.20px #4b6a55;transform:scaleX(0.9167);">VISITA - DIMISSIONE</div>
<div class="t" style="left:606.75px;top:1140.47px;line-height:21.6px;color:#4b6a55;font-family:'Liberation Sans', sans-serif;font-size:21.6px;font-weight:400;-webkit-text-stroke:0.20px #4b6a55;transform:scaleX(0.8817);">ARRIVO - DIMISSIONE</div>
<div class="t" style="left:930.38px;top:717.97px;line-height:21.3px;color:#4dab59;font-family:'Liberation Sans', sans-serif;font-size:21.3px;font-weight:700;-webkit-text-stroke:0.30px #4dab59;transform:scaleX(1.0181);">78,17</div>
<div class="t" style="left:901.32px;top:748.97px;line-height:21.6px;color:#111;font-family:'Liberation Sans', sans-serif;font-size:21.6px;font-weight:400;-webkit-text-stroke:0.20px #111;transform:scaleX(0.9130);">(DS = 99,46)</div>
<div class="t" style="left:928.83px;top:922.47px;line-height:21.3px;color:#4dab59;font-family:'Liberation Sans', sans-serif;font-size:21.3px;font-weight:700;-webkit-text-stroke:0.30px #4dab59;transform:scaleX(1.0545);">88,34</div>
<div class="t" style="left:901.25px;top:952.97px;line-height:21.6px;color:#585858;font-family:'Liberation Sans', sans-serif;font-size:21.6px;font-weight:400;-webkit-text-stroke:0.20px #585858;transform:scaleX(0.9608);">(DS =76,32)</div>
<div class="t" style="left:919.40px;top:1124.47px;line-height:21.3px;color:#4dab59;font-family:'Liberation Sans', sans-serif;font-size:21.3px;font-weight:700;-webkit-text-stroke:0.30px #4dab59;transform:scaleX(1.0534);">170,44</div>
<div class="t" style="left:896.26px;top:1155.47px;line-height:21.6px;color:#585858;font-family:'Liberation Sans', sans-serif;font-size:21.6px;font-weight:400;-webkit-text-stroke:0.20px #585858;transform:scaleX(0.9585);">(DS = 125,42)</div>
<div class="t" style="left:1134.03px;top:717.72px;line-height:21.6px;color:#585858;font-family:'Liberation Sans', sans-serif;font-size:21.6px;font-weight:400;-webkit-text-stroke:0.20px #585858;transform:scaleX(0.9065);">107,31</div>
<div class="t" style="left:1099.51px;top:748.97px;line-height:21.6px;color:#585858;font-family:'Liberation Sans', sans-serif;font-size:21.6px;font-weight:400;-webkit-text-stroke:0.20px #585858;transform:scaleX(0.9604);">(DS = 165,34)</div>
<div class="t" style="left:1133.19px;top:922.22px;line-height:21.6px;color:#585858;font-family:'Liberation Sans', sans-serif;font-size:21.6px;font-weight:400;-webkit-text-stroke:0.20px #585858;transform:scaleX(0.9349);">168,32</div>
<div class="t" style="left:1099.05px;top:952.97px;line-height:21.6px;color:#585858;font-family:'Liberation Sans', sans-serif;font-size:21.6px;font-weight:400;-webkit-text-stroke:0.20px #585858;transform:scaleX(0.9623);">(DS = 484,55)</div>
<div class="t" style="left:1134.00px;top:1124.22px;line-height:21.6px;color:#585858;font-family:'Liberation Sans', sans-serif;font-size:21.6px;font-weight:400;-webkit-text-stroke:0.20px #585858;transform:scaleX(0.9208);">348,55</div>
<div class="t" style="left:1105.25px;top:1155.47px;line-height:21.6px;color:#585858;font-family:'Liberation Sans', sans-serif;font-size:21.6px;font-weight:400;-webkit-text-stroke:0.20px #585858;transform:scaleX(0.9676);">(DS = 539,13)</div>
<div class="t" style="left:1344.31px;top:732.72px;line-height:21.6px;color:#585858;font-family:'Liberation Sans', sans-serif;font-size:21.6px;font-weight:400;-webkit-text-stroke:0.20px #585858;transform:scaleX(0.9160);">0.003</div>
<div class="t" style="left:1337.83px;top:937.32px;line-height:21.6px;color:#585858;font-family:'Liberation Sans', sans-serif;font-size:21.6px;font-weight:400;-webkit-text-stroke:0.20px #585858;transform:scaleX(0.9515);">&lt;0.001</div>
<div class="t" style="left:1337.83px;top:1139.72px;line-height:21.6px;color:#585858;font-family:'Liberation Sans', sans-serif;font-size:21.6px;font-weight:400;-webkit-text-stroke:0.20px #585858;transform:scaleX(0.9515);">&lt;0.001</div>
<div class="t" style="left:134.40px;top:38.66px;line-height:61px;color:#1d4a35;font-family:'Liberation Serif', serif;font-size:61px;font-weight:400;transform:scaleX(1.0460);">PTV</div>
<div class="t" style="left:139.94px;top:95.49px;line-height:8.4px;color:#3c5a4a;font-family:'Liberation Sans', sans-serif;font-size:8.4px;font-weight:400;transform:scaleX(0.9858);">FONDAZIONE  PTV</div>
<div class="t" style="left:139.95px;top:107.59px;line-height:8.4px;color:#3c5a4a;font-family:'Liberation Sans', sans-serif;font-size:8.4px;font-weight:400;transform:scaleX(0.9697);">POLICLINICO TOR VERGATA</div>
<div class="t" style="left:1908.93px;top:250.53px;line-height:11.3px;color:#111;font-family:'Liberation Sans', sans-serif;font-size:11.3px;font-weight:700;transform:scaleX(1.0517);">NuReT_PTV</div>
<div class="t" style="left:1896.36px;top:265.52px;line-height:8.6px;color:#222;font-family:'Liberation Sans', sans-serif;font-size:8.6px;font-weight:700;transform:scaleX(0.9598);">Nursing Research Team</div>
<div class="t" style="left:1893.76px;top:278.02px;line-height:8.6px;color:#222;font-family:'Liberation Sans', sans-serif;font-size:8.6px;font-weight:700;transform:scaleX(0.9688);">Policlinico di Tor Vergata</div>
<div class="t" style="left:1926.03px;top:69.77px;line-height:7px;color:#7a9ad0;font-family:'Liberation Sans', sans-serif;font-size:7px;font-weight:700;transform:scaleX(1.0278);">Fast Care</div>
</div>
</body></html>
